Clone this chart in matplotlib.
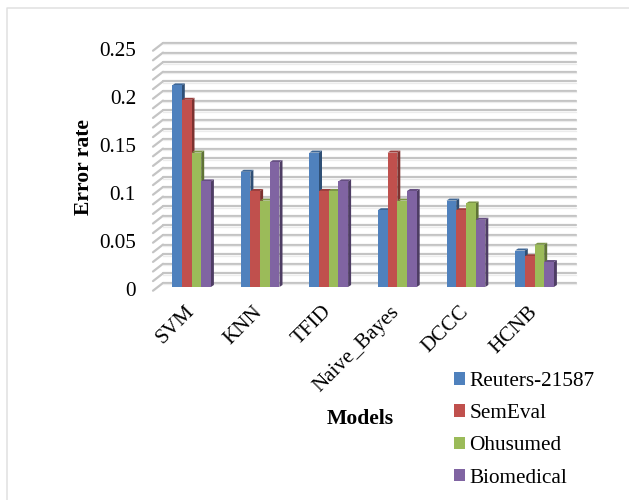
import matplotlib
matplotlib.use("Agg")
import matplotlib.pyplot as plt
from matplotlib.patches import Polygon, Rectangle
from matplotlib.lines import Line2D
from matplotlib.transforms import ScaledTranslation
import numpy as np

models = ["SVM", "KNN", "TFID", "Naive_Bayes", "DCCC", "HCNB"]
series_names = ["Reuters-21587", "SemEval", "Ohusumed", "Biomedical"]
reuters = [0.21, 0.12, 0.14, 0.08, 0.09, 0.038]
semeval = [0.195, 0.10, 0.10, 0.14, 0.08, 0.032]
ohsumed = [0.14, 0.09, 0.10, 0.09, 0.087, 0.044]
biomedical = [0.11, 0.13, 0.11, 0.10, 0.07, 0.026]
series = [reuters, semeval, ohsumed, biomedical]
front = ["#4f81bd", "#c0504d", "#9bbb59", "#8064a2"]
top = ["#3e6796", "#9c3f3d", "#7c9647", "#664f82"]
side = ["#2f4f75", "#7d3230", "#5f7336", "#4e3d64"]
yticks = [0, 0.05, 0.1, 0.15, 0.2, 0.25]
ylabels = ["0", "0.05", "0.1", "0.15", "0.2", "0.25"]

plt.rcParams["font.family"] = ["Liberation Serif", "DejaVu Serif"]
W, H = 629, 500
fig = plt.figure(figsize=(W / 100, H / 100), dpi=100)
fig.patch.set_facecolor("white")

L, R, T, B = 152, 576, 47, 287
ax = fig.add_axes([L / W, 1 - B / H, (R - L) / W, (B - T) / H])
sx = 68.6
x0 = 191.5
ax.set_xlim((L - x0) / sx, (R - x0) / sx)
ax.set_ylim(0, 0.25)
ax.patch.set_visible(False)
for s in ax.spines.values():
    s.set_visible(False)
px = 1 / sx
py = 0.25 / (B - T)

xl, xr = ax.get_xlim()
for v in np.arange(0, 25.5) / 100:
    yb = v + 4 * py
    yf = v - 3.7 * py
    ax.plot([xl + 1 * px, xl + 11 * px], [yf, yb], color="#c4c4c4", lw=1.6,
            clip_on=False, zorder=1, solid_capstyle="round")
    ax.plot([xl + 11 * px, xr], [yb, yb], color="#c4c4c4", lw=1.6,
            clip_on=False, zorder=1, solid_capstyle="round")
    ax.plot([xl + 11 * px, xr], [yb - 1.4 * py, yb - 1.4 * py], color="#ececec", lw=0.9,
            clip_on=False, zorder=1)

bw = 9.7 * px
dx, dy = 3 * px, 2 * py
for j, vals in enumerate(series):
    off = (j - 2) * bw
    for i, v in enumerate(vals):
        xa = i + off
        xb = xa + bw
        z = 3 + j
        ax.add_patch(Polygon([(xb, 0), (xb + dx, dy), (xb + dx, v + dy), (xb, v)],
                             closed=True, fc=side[j], ec="none", zorder=z, clip_on=False))
        ax.add_patch(Polygon([(xa, v), (xa + dx, v + dy), (xb + dx, v + dy), (xb, v)],
                             closed=True, fc=top[j], ec="none", zorder=z, clip_on=False))
        ax.bar(xa, v, width=bw, align="edge", color=front[j], linewidth=0, zorder=z + 0.1)

ax.set_yticks(yticks)
ax.set_yticklabels(ylabels, fontsize=15.2)
ax.set_xticks(range(len(models)))
ax.set_xticklabels(models, fontsize=15.2, rotation=45, ha="right", rotation_mode="anchor")
ax.tick_params(axis="both", length=0)
ax.tick_params(axis="y", pad=11.5)
ax.tick_params(axis="x", pad=11)
shift = ScaledTranslation(-7 / 100, 0, fig.dpi_scale_trans)
for lab in ax.get_xticklabels():
    lab.set_transform(lab.get_transform() + shift)
yshift = ScaledTranslation(0, -2 / 100, fig.dpi_scale_trans)
for lab in ax.get_yticklabels():
    lab.set_transform(lab.get_transform() + yshift)

ax.set_ylabel("Error rate", fontsize=15.6, fontweight="bold")
ax.yaxis.set_label_coords((94 - L) / (R - L), (B - 167) / (B - T))
fig.text(360 / W, 1 - 419 / H, "Models", fontsize=15.6, fontweight="bold",
         ha="center", va="center")

handles = [Rectangle((0, 0), 1, 1, fc=c, ec="none") for c in front]
leg = fig.legend(handles, series_names, loc="upper left", bbox_to_anchor=(454 / W, 1 - 372 / H),
                 bbox_transform=fig.transFigure, frameon=False, fontsize=15.3,
                 handlelength=0.52, handleheight=0.52, handletextpad=0.21,
                 labelspacing=0.62, borderpad=0, borderaxespad=0)

fig.add_artist(Line2D([7 / W, 7 / W, 629 / W], [0, 1 - 7.5 / H, 1 - 7.5 / H], color="#e0e0e0",
                      lw=1.1, transform=fig.transFigure))
fig.savefig("out.png", dpi=100)
